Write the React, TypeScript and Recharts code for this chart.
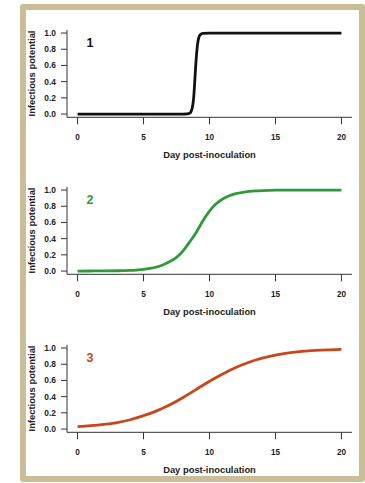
import React from 'react';
import { LineChart, Line, XAxis, YAxis } from 'recharts';

// values
const days1 = [0, 1, 2, 3, 4, 5, 6, 7, 8, 8.3, 8.5, 8.6, 8.7, 8.8, 8.9, 9.0, 9.1, 9.2, 9.3, 9.5, 10, 11, 12, 13, 14, 15, 16, 17, 18, 19, 20];
const values1 = [0, 0, 0, 0, 0, 0, 0, 0, 0, 0.002, 0.01, 0.03, 0.08, 0.2, 0.45, 0.7, 0.87, 0.95, 0.98, 0.997, 1, 1, 1, 1, 1, 1, 1, 1, 1, 1, 1];

const days2 = [0, 1, 2, 3, 4, 4.5, 5, 5.5, 6, 6.5, 7, 7.5, 8, 8.5, 9, 9.5, 10, 10.5, 11, 11.5, 12, 12.5, 13, 13.5, 14, 15, 16, 17, 18, 19, 20];
const values2 = [0, 0.001, 0.002, 0.004, 0.008, 0.013, 0.02, 0.032, 0.05, 0.078, 0.118, 0.17, 0.25, 0.36, 0.48, 0.62, 0.74, 0.83, 0.89, 0.93, 0.955, 0.972, 0.983, 0.99, 0.994, 0.998, 0.999, 1, 1, 1, 1];

const days3 = [0, 1, 2, 3, 4, 5, 6, 7, 8, 9, 10, 11, 12, 13, 14, 15, 16, 17, 18, 19, 20];
const values3 = [0.03, 0.042, 0.058, 0.08, 0.115, 0.165, 0.225, 0.3, 0.39, 0.49, 0.59, 0.68, 0.76, 0.825, 0.875, 0.912, 0.94, 0.958, 0.97, 0.978, 0.984];

const xTicks = [0, 5, 10, 15, 20];
const yTicks = [0, 0.2, 0.4, 0.6, 0.8, 1.0];

const FONT = '"Liberation Sans", Arial, Helvetica, sans-serif';
const AXIS = '#333333';

const toData = (days: number[], values: number[]) => days.map((d, i) => ({ day: d, value: values[i] }));

interface PanelProps {
    days: number[];
    values: number[];
    color: string;
    label: string;
    top: number;
    curve: 'monotone' | 'natural';
}

const Panel = ({ days, values, color, label, top, curve }: PanelProps) => {
    const data = toData(days, values);
    return (
        <div style={{ position: 'absolute', left: 0, top, width: 365, height: 163 }}>
            <LineChart
                width={365}
                height={163}
                data={data}
                margin={{ top: 29.8, right: 13, bottom: 0, left: 0 }}
            >
                <XAxis
                    dataKey="day"
                    type="number"
                    domain={[-0.8, 20.8]}
                    ticks={xTicks}
                    interval={0}
                    height={45.7}
                    tickSize={7}
                    tickMargin={10}
                    axisLine={{ stroke: AXIS, strokeWidth: 1 }}
                    tickLine={{ stroke: AXIS, strokeWidth: 1 }}
                    tick={{ fontSize: 8.2, fontWeight: 700, fill: '#222', fontFamily: FONT }}
                />
                <YAxis
                    type="number"
                    domain={[-0.04, 1.04]}
                    ticks={yTicks}
                    interval={0}
                    width={67}
                    tickSize={6}
                    tickMargin={5}
                    tickFormatter={(v: number) => v.toFixed(1)}
                    axisLine={{ stroke: AXIS, strokeWidth: 1 }}
                    tickLine={{ stroke: AXIS, strokeWidth: 1 }}
                    tick={{ fontSize: 8.4, fontWeight: 700, fill: '#222', fontFamily: FONT }}
                />
                <Line
                    type={curve}
                    dataKey="value"
                    stroke={color}
                    strokeWidth={2.8}
                    dot={false}
                    activeDot={false}
                    isAnimationActive={false}
                />
                <text
                    x={35}
                    y={73.5}
                    transform="rotate(-90, 35, 73.5)"
                    textAnchor="middle"
                    fontSize={9.4}
                    fontWeight={700}
                    fontFamily={FONT}
                    fill="#222"
                >
                    Infectious potential
                </text>
                <text
                    x={209.5}
                    y={157.5}
                    textAnchor="middle"
                    fontSize={9.4}
                    fontWeight={700}
                    fontFamily={FONT}
                    fill="#222"
                >
                    Day post-inoculation
                </text>
                <text x={90} y={47} textAnchor="middle" fontSize={12.5} fontWeight={700} fontFamily={FONT} fill={color}>
                    {label}
                </text>
            </LineChart>
        </div>
    );
};

export default function App() {
    return (
        <div style={{ position: 'fixed', left: 0, top: 0, width: 365, height: 483, background: '#fff', overflow: 'hidden' }}>
            <div
                style={{
                    position: 'absolute',
                    left: 20,
                    top: 4,
                    width: 345,
                    height: 478,
                    boxSizing: 'border-box',
                    border: '6px solid #c9be97',
                    borderRadius: 3,
                    background: '#fff',
                }}
            />
            <Panel days={days1} values={values1} color="#111111" label="1" top={0} curve="monotone" />
            <Panel days={days2} values={values2} color="#2f9a3a" label="2" top={157.3} curve="natural" />
            <Panel days={days3} values={values3} color="#c9461b" label="3" top={314.7} curve="natural" />
        </div>
    );
}
